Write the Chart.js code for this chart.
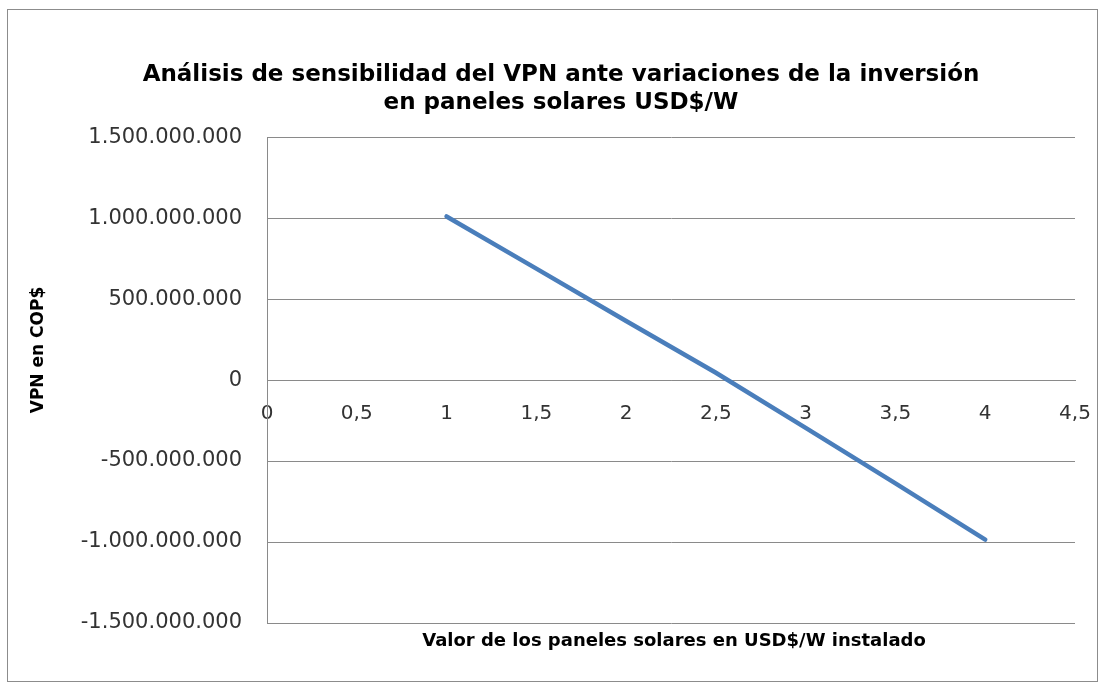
<!DOCTYPE html>
<html>
<head>
<meta charset="utf-8">
<script src="https://cdn.jsdelivr.net/npm/chart.js@4.4.1/dist/chart.umd.min.js"></script>
<style>
  html, body { margin: 0; padding: 0; background: #ffffff; }
  #wrap { width: 1107px; height: 689px; }
</style>
</head>
<body>
<div id="wrap"><canvas id="grafico" width="1107" height="689"></canvas></div>
<script>
// --- DATOS ---
const tituloLineas = ['Análisis de sensibilidad del VPN ante variaciones de la inversión', 'en paneles solares USD$/W'];
const tituloX = 'Valor de los paneles solares en USD$/W instalado';
const tituloY = 'VPN en COP$';
const precioPanel = [1, 1.5, 2, 2.5, 3, 3.5, 4];
const vpn = [1010000000, 688000000, 365000000, 45000000, -295000000, -638000000, -985000000];
const ticksX = [0, 0.5, 1, 1.5, 2, 2.5, 3, 3.5, 4, 4.5];
const ticksY = [-1500000000, -1000000000, -500000000, 0, 500000000, 1000000000, 1500000000];

const FUENTE = "'DejaVu Sans', sans-serif";
const GRIS = '#8a8a8a';

function formatoMiles(v) {
    const signo = v < 0 ? '-' : '';
    const s = String(Math.abs(Math.round(v)));
    return signo + s.replace(/\B(?=(\d{3})+(?!\d))/g, '.');
}

// marco + titulos de ejes
const decoracion = {
    id: 'decoracion',
    beforeDraw(chart) {
        const ctx = chart.ctx;
        ctx.save();
        ctx.fillStyle = '#ffffff';
        ctx.fillRect(0, 0, chart.width, chart.height);
        ctx.strokeStyle = '#8c8c8c';
        ctx.lineWidth = 1;
        ctx.strokeRect(7.5, 9.5, 1090, 672);
        ctx.restore();
    },
    afterDraw(chart) {
        const ctx = chart.ctx;
        const area = chart.chartArea;
        ctx.save();
        ctx.fillStyle = '#000000';
        ctx.font = 'bold 18px ' + FUENTE;
        ctx.textAlign = 'center';
        ctx.textBaseline = 'middle';
        ctx.fillText(tituloX, (area.left + area.right) / 2 + 3, 641);
        ctx.font = 'bold 17px ' + FUENTE;
        ctx.translate(39, 350);
        ctx.rotate(-Math.PI / 2);
        ctx.fillText(tituloY, 0, 0);
        ctx.restore();
    }
};

const ctx = document.getElementById('grafico').getContext('2d');
new Chart(ctx, {
    type: 'scatter',
    data: {
        datasets: [{
            data: precioPanel.map((x, i) => ({ x: x, y: vpn[i] })),
            showLine: true,
            borderColor: '#4a7ebb',
            borderWidth: 4.5,
            borderCapStyle: 'round',
            pointRadius: 0,
            pointHoverRadius: 0,
            tension: 0
        }]
    },
    options: {
        responsive: false,
        animation: false,
        layout: { padding: { left: 47, right: 32, top: 0, bottom: 66 } },
        plugins: {
            legend: { display: false },
            tooltip: { enabled: false },
            title: {
                display: true,
                text: tituloLineas,
                color: '#000000',
                font: { family: FUENTE, size: 23, weight: 'bold', lineHeight: 1.22 },
                padding: { top: 61, bottom: 20 }
            }
        },
        scales: {
            x: {
                type: 'linear',
                position: { y: 0 },
                min: 0,
                max: 4.5,
                afterBuildTicks: (scale) => { scale.ticks = ticksX.map(v => ({ value: v })); },
                afterFit: (scale) => { scale.paddingLeft = 0; scale.paddingRight = 0; },
                grid: { display: false, drawTicks: false },
                border: { display: true, color: GRIS, width: 1 },
                ticks: {
                    color: '#333333',
                    font: { family: FUENTE, size: 20 },
                    padding: 22,
                    maxRotation: 0,
                    autoSkip: false,
                    callback: (v) => String(v).replace('.', ',')
                }
            },
            y: {
                type: 'linear',
                min: -1500000000,
                max: 1500000000,
                afterBuildTicks: (scale) => { scale.ticks = ticksY.map(v => ({ value: v })); },
                afterFit: (scale) => { scale.width = 220; },
                grid: { color: GRIS, lineWidth: 1, drawTicks: false },
                border: { display: true, color: GRIS, width: 1 },
                ticks: {
                    color: '#333333',
                    font: { family: FUENTE, size: 21 },
                    padding: 25,
                    autoSkip: false,
                    callback: (v) => formatoMiles(v)
                }
            }
        }
    },
    plugins: [decoracion]
});
</script>
</body>
</html>
